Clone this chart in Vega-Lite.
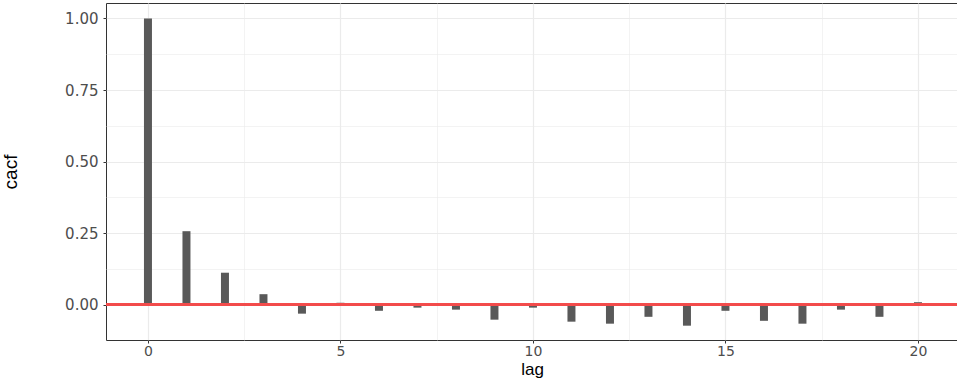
{
  "$schema": "https://vega.github.io/schema/vega-lite/v6.json",
  "width": 852,
  "height": 337,
  "autosize": "none",
  "padding": {"left": 106, "top": 3, "right": 0, "bottom": 42},
  "background": "white",
  "config": {
    "view": {"stroke": "#333333", "strokeWidth": 1},
    "axis": {
      "gridColor": "#ebebeb",
      "tickColor": "#333333",
      "tickSize": 3,
      "domain": false,
      "labelFont": "DejaVu Sans",
      "labelFontSize": 15,
      "labelColor": "#4d4d4d",
      "titleFont": "Liberation Sans",
      "titleFontWeight": "normal",
      "titleColor": "#000000"
    }
  },
  "data": {
    "values": [
      {"lag": 0, "acf": 1.0},
      {"lag": 1, "acf": 0.257},
      {"lag": 2, "acf": 0.112},
      {"lag": 3, "acf": 0.037},
      {"lag": 4, "acf": -0.031},
      {"lag": 5, "acf": 0.007},
      {"lag": 6, "acf": -0.021},
      {"lag": 7, "acf": -0.010},
      {"lag": 8, "acf": -0.017},
      {"lag": 9, "acf": -0.052},
      {"lag": 10, "acf": -0.010},
      {"lag": 11, "acf": -0.059},
      {"lag": 12, "acf": -0.066},
      {"lag": 13, "acf": -0.042},
      {"lag": 14, "acf": -0.073},
      {"lag": 15, "acf": -0.021},
      {"lag": 16, "acf": -0.056},
      {"lag": 17, "acf": -0.066},
      {"lag": 18, "acf": -0.017},
      {"lag": 19, "acf": -0.042},
      {"lag": 20, "acf": 0.009}
    ]
  },
  "resolve": {"axis": {"x": "independent", "y": "independent"}},
  "layer": [
    {
      "mark": {"type": "bar", "opacity": 0},
      "encoding": {
        "x": {"field": "lag", "type": "quantitative",
              "scale": {"domain": [-1.09, 21.04], "nice": false, "zero": false, "padding": 0},
              "axis": {"orient": "bottom", "values": [2.5, 7.5, 12.5, 17.5], "labels": false, "ticks": false, "title": null, "grid": true, "gridWidth": 0.6}},
        "y": {"field": "acf", "type": "quantitative",
              "scale": {"domain": [-0.123, 1.054], "nice": false, "zero": false, "padding": 0},
              "axis": {"orient": "left", "values": [0.125, 0.375, 0.625, 0.875], "labels": false, "ticks": false, "title": null, "grid": true, "gridWidth": 0.6}}
      }
    },
    {
      "mark": {"type": "bar", "color": "#595959", "width": 8},
      "encoding": {
        "x": {"field": "lag", "type": "quantitative",
              "axis": {"orient": "bottom", "values": [0, 5, 10, 15, 20], "grid": true, "gridWidth": 1.2, "title": "lag", "titleFontSize": 17, "titleBaseline": "alphabetic", "titleY": 34, "labelFontSize": 14, "labelPadding": 1}},
        "y": {"field": "acf", "type": "quantitative",
              "axis": {"orient": "left", "values": [0, 0.25, 0.5, 0.75, 1.0], "format": ".2f", "grid": true, "gridWidth": 1.2, "title": "cacf", "titleFontSize": 19, "labelPadding": 5, "titleX": -86}}
      }
    },
    {
      "mark": {"type": "rule", "color": "#f24b4b", "strokeWidth": 2},
      "encoding": {"y": {"datum": 0, "axis": null}}
    }
  ]
}
